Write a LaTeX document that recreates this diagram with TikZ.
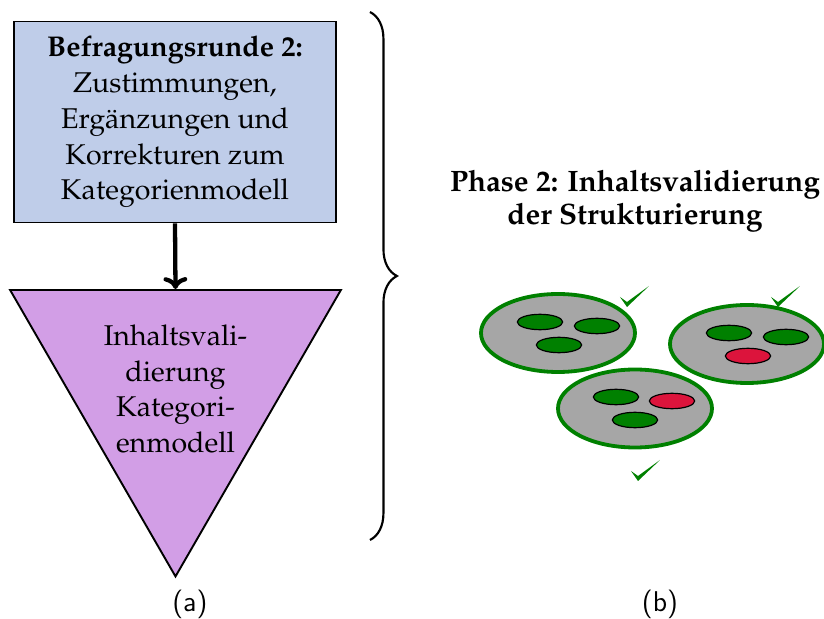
\documentclass[tikz,border=0pt]{standalone}
\usepackage[T1]{fontenc}
\usepackage{mathpazo}
\usetikzlibrary{positioning,arrows.meta,shapes.geometric,decorations.pathreplacing}
\definecolor{qblueL}{HTML}{BFCDE9}
\definecolor{qvioletL}{HTML}{D29EE6}
\definecolor{qgreen}{HTML}{008000}
\definecolor{qred}{HTML}{DC143C}
\definecolor{qgray}{HTML}{A6A6A6}

\begin{document}
\begin{tikzpicture}[x=0.42pt, y=0.42pt,
      font=\fontsize{12}{15}\selectfont,
      qbox/.style={draw, thick, fill=qblueL, minimum width=135.2pt, minimum height=84.4pt,
                   align=center, inner sep=0pt},
      qtri/.style={draw, thick, fill=qvioletL, regular polygon, regular polygon sides=3,
                   shape border rotate=180, minimum size=160.4pt, inner sep=0pt},
      arr/.style={-{To[length=5pt,width=10pt]}, line width=1.8pt},
      cluster/.style={draw=qgreen, line width=1.6pt, fill=qgray},
      itemok/.style={draw=black, line width=0.5pt, fill=qgreen},
      itembad/.style={itemok, fill=qred},
      caption/.style={font=\usefont{OT1}{cmss}{m}{n}\fontsize{12}{15}\selectfont},
      okmark/.pic={\fill[qgreen] (-7,8) -- (0,-2) -- (22,19) -- (0,3) -- cycle;}
    ]
    \useasboundingbox (0,0) rectangle (824,619);

    % left part
    \node[qbox] (survey) at (175,497) {\textbf{Befragungsrunde 2:}\\Zustimmungen,\\Erg\"anzungen und\\Korrekturen zum\\Kategorienmodell};
    \node[qtri] (valid) at (175.5,233.5) {};
    \node[align=center] (validtext) at (175.5,230) {Inhaltsvali-\\dierung\\Kategori-\\enmodell};
    \draw[arr] (survey.south) -- (valid.north);

    % brace
    \coordinate (bracetop) at (370,607);
    \coordinate (bracebot) at (370,79);
    \draw[line width=0.9pt, decorate, decoration={brace, amplitude=11.3pt}] (bracetop) -- (bracebot);

    % right part
    \node[font=\fontsize{12.4}{14}\selectfont\bfseries, align=center] (phase) at (635,418)
      {Phase 2: Inhaltsvalidierung\\der Strukturierung};

    \draw[cluster] (558,286) ellipse [x radius=77, y radius=39];
    \draw[itemok]  (540,297) ellipse [x radius=22.7, y radius=7.7];
    \draw[itemok]  (597,293) ellipse [x radius=22.7, y radius=7.7];
    \draw[itemok]  (559,274) ellipse [x radius=22.7, y radius=7.7];

    \draw[cluster] (747,275) ellipse [x radius=77, y radius=39];
    \draw[itemok]  (729,286) ellipse [x radius=22.7, y radius=7.7];
    \draw[itemok]  (786,282) ellipse [x radius=22.7, y radius=7.7];
    \draw[itembad] (748,263) ellipse [x radius=22.7, y radius=7.7];

    \draw[cluster] (635,210.5) ellipse [x radius=77, y radius=39];
    \draw[itemok]  (616,222) ellipse [x radius=22.7, y radius=7.7];
    \draw[itembad] (672,218) ellipse [x radius=22.7, y radius=7.7];
    \draw[itemok]  (635,199) ellipse [x radius=22.7, y radius=7.7];

    \pic at (627,314) {okmark};
    \pic at (778,314) {okmark};
    \pic at (638,140) {okmark};

    % captions
    \node[caption] (capa) at (190,15) {(a)};
    \node[caption] (capb) at (660,15) {(b)};
  \end{tikzpicture}
\end{document}
